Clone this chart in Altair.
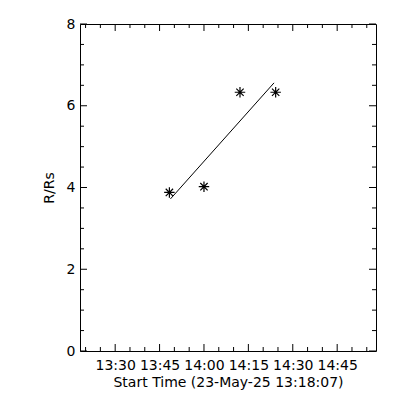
import altair as alt
import pandas as pd

# data
times = ["2025-05-23T13:48:19Z", "2025-05-23T14:00:00Z", "2025-05-23T14:12:10Z", "2025-05-23T14:24:13Z"]
heights = [3.88, 4.02, 6.33, 6.33]
fit_times = ["2025-05-23T13:48:40Z", "2025-05-23T14:23:40Z"]
fit_heights = [3.72, 6.56]

major_x = ["13:30", "13:45", "14:00", "14:15", "14:30", "14:45"]
minor_x = ["13:20", "13:25", "13:35", "13:40", "13:50", "13:55", "14:05", "14:10",
           "14:20", "14:25", "14:35", "14:40", "14:50", "14:55"]
major_y = [0, 2, 4, 6, 8]
minor_y = [0.5, 1, 1.5, 2.5, 3, 3.5, 4.5, 5, 5.5, 6.5, 7, 7.5]

W, H = 296, 327
FONT = "DejaVu Sans"

def dt(hm, s=0):
    h, m = hm.split(":")
    return alt.DateTime(year=2025, month=5, date=23, hours=int(h), minutes=int(m), seconds=s, utc=True)

xscale = alt.Scale(type="utc", domain=[dt("13:18", 7), dt("14:58", 7)])
yscale = alt.Scale(domain=[0, 8], nice=False, zero=False)

xaxis = alt.Axis(values=[dt(v) for v in major_x], labelExpr="utcFormat(datum.value, '%H:%M')",
                 ticks=False, domain=False, grid=False, labelPadding=7,
                 title="Start Time (23-May-25 13:18:07)", titlePadding=3)
yaxis = alt.Axis(values=major_y, ticks=False, domain=False, grid=False, labelPadding=5,
                 title="R/Rs", titlePadding=10)

pts = pd.DataFrame({"t": times, "r": heights})
fit = pd.DataFrame({"t": fit_times, "r": fit_heights})
mx = pd.DataFrame({"t": ["2025-05-23T" + v + ":00Z" for v in major_x]})
nx = pd.DataFrame({"t": ["2025-05-23T" + v + ":00Z" for v in minor_x]})
my = pd.DataFrame({"r": major_y})
ny = pd.DataFrame({"r": minor_y})

star = "M0,-1L0,1M-1,0L1,0M-0.7,-0.7L0.7,0.7M-0.7,0.7L0.7,-0.7"

X = lambda: alt.X("t:T", scale=xscale, axis=xaxis)
Y = lambda: alt.Y("r:Q", scale=yscale, axis=yaxis)

points = alt.Chart(pts).mark_point(shape=star, size=110, filled=False, stroke="black", strokeWidth=1.2, opacity=1).encode(
    x=X(), y=Y())

line = alt.Chart(fit).mark_line(color="black", strokeWidth=1).encode(x=X(), y=Y())

def xticks(df, length):
    bot = alt.Chart(df).mark_rule(color="black", strokeWidth=1).encode(
        x=X(), y=alt.value(H), y2=alt.value(H - length))
    top = alt.Chart(df).mark_rule(color="black", strokeWidth=1).encode(
        x=X(), y=alt.value(0), y2=alt.value(length))
    return [bot, top]

def yticks(df, length):
    left = alt.Chart(df).mark_rule(color="black", strokeWidth=1).encode(
        y=Y(), x=alt.value(0), x2=alt.value(length))
    right = alt.Chart(df).mark_rule(color="black", strokeWidth=1).encode(
        y=Y(), x=alt.value(W), x2=alt.value(W - length))
    return [left, right]

layers = [points, line] + xticks(mx, 7) + xticks(nx, 4) + yticks(my, 7) + yticks(ny, 4)

chart = alt.layer(*layers).properties(
    width=W, height=H,
    background="white",
    autosize=alt.AutoSizeParams(type="none"),
    padding={"left": 72, "top": 16, "right": 16, "bottom": 41},
).configure_view(stroke="black", strokeWidth=1).configure_axis(
    labelFont=FONT, labelFontSize=14, labelColor="black",
    titleFont=FONT, titleFontSize=14, titleFontWeight="normal", titleColor="black",
)

chart.save("out.html", embed_options={"renderer": "svg", "actions": False})
